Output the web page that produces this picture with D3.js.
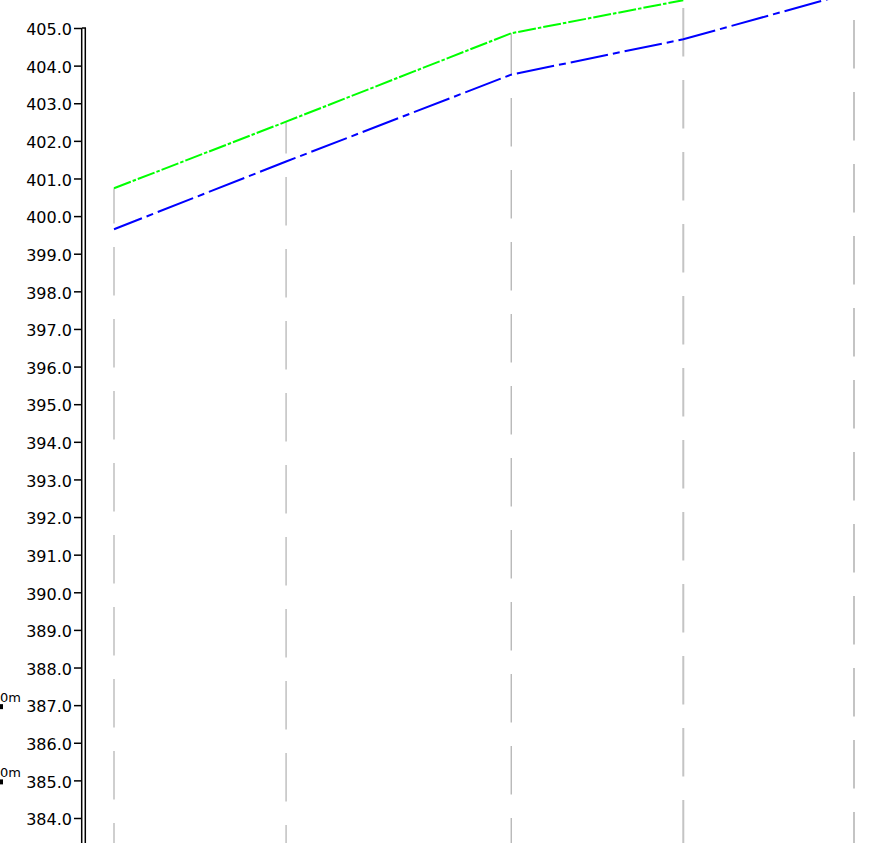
<!DOCTYPE html>
<html lang="en">
    <head>
        <meta charset="utf-8">
        <title>Profile View</title>
        <script src="https://d3js.org/d3.v7.min.js"></script>
        <style type="text/css">
          body{
            margin: 0;
            background: #fff;
          }
          svg{
            display: block;
          }
          .elev text{
            font-family: "DejaVu Sans", sans-serif;
            font-size: 16px;
            fill: #000;
          }
        </style>
    </head>
    <body>
        <script type="text/javascript">

        const w = 875;
        const h = 843;

        // chainage of each station (m) and elevations
        const stations = [0, 50, 115.4, 165.4, 215];
        const designElev = [400.74, 402.51, 404.86, 405.74];
        const groundElev = [399.65, 401.45, 403.76, 404.70, 405.96];

        // elevation tick labels on the left axis
        const elevTicks = d3.range(384, 406, 1);

        // cut-off offset labels poking in from the left edge
        const offsetLabels = [387, 385];

        const x = d3.scaleLinear()
                    .domain([0, 215])
                    .range([114, 854]);

        const y = d3.scaleLinear()
                    .domain([384, 405])
                    .range([818, 28]);

        const svg = d3.select("body").append("svg")
                      .attr("width", w)
                      .attr("height", h);

        //grid lines at the stations, dashed down from the design line
        const gridPhase = [31, 33, 26, 8, 20]; // where each dash pattern starts
        const period = 72;
        const topOf = i => i < designElev.length ? Math.max(0, y(designElev[i])) : 0;
        svg.append("g")
           .selectAll("line")
           .data(stations)
           .enter()
           .append("line")
           .attr("x1", d => x(d))
           .attr("x2", d => x(d))
           .attr("y1", (d, i) => topOf(i))
           .attr("y2", h)
           .attr("stroke", (d, i) => i === 2 ? "#9c9c9c" : "#c4c4c4")
           .attr("stroke-width", (d, i) => i === 2 ? 1 : (i >= 3 ? 2 : 1.6))
           .attr("stroke-dasharray", "48.5,23.5")
           .attr("stroke-dashoffset", (d, i) => (((topOf(i) - gridPhase[i]) % period) + period) % period);

        //profile lines
        const line = d3.line()
                       .x(d => x(d[0]))
                       .y(d => y(d[1]));

        svg.append("path")
           .datum(stations.map((s, i) => [s, groundElev[i]]))
           .attr("d", line)
           .attr("fill", "none")
           .attr("stroke", "#0000ff")
           .attr("stroke-width", 2)
           .attr("stroke-dasharray", "38,5,7,5")
           .attr("stroke-dashoffset", 8);

        svg.append("path")
           .datum(designElev.map((v, i) => [stations[i], v]))
           .attr("d", line)
           .attr("fill", "none")
           .attr("stroke", "#00ff00")
           .attr("stroke-width", 2)
           .attr("stroke-dasharray", "18,2,3.5,2");

        //elevation axis with double line
        const axis = d3.axisLeft(y)
                       .tickValues(elevTicks)
                       .tickFormat(d3.format(".1f"))
                       .tickSize(8)
                       .tickPadding(2);

        const gAxis = svg.append("g")
           .attr("class", "elev")
           .attr("transform", "translate(82,0)")
           .call(axis);
        gAxis.select(".domain").remove();
        gAxis.selectAll(".tick line")
             .attr("stroke", "#000")
             .attr("stroke-width", 1.5);
        gAxis.selectAll(".tick text")
             .attr("dy", "0.42em");

        [81.7, 85.3].forEach(px => {
            svg.append("line")
               .attr("x1", px).attr("x2", px)
               .attr("y1", y(405)).attr("y2", h)
               .attr("stroke", "#000")
               .attr("stroke-width", 1.5);
        });
        svg.append("line")
           .attr("x1", 82).attr("x2", 86)
           .attr("y1", y(405)).attr("y2", y(405))
           .attr("stroke", "#000")
           .attr("stroke-width", 1.5);

        //clipped offset labels at the far left
        const off = svg.append("g");
        off.selectAll("text")
           .data(offsetLabels)
           .enter()
           .append("text")
           .attr("x", 21)
           .attr("y", d => y(d) - 3.5)
           .attr("text-anchor", "end")
           .style("font-family", "'DejaVu Sans', sans-serif")
           .style("font-size", "13px")
           .text("0m");
        off.selectAll("rect")
           .data(offsetLabels)
           .enter()
           .append("rect")
           .attr("x", 0)
           .attr("y", d => y(d) - 1)
           .attr("width", 3)
           .attr("height", 5)
           .attr("fill", "#000");

        </script>
    </body>
</html>
